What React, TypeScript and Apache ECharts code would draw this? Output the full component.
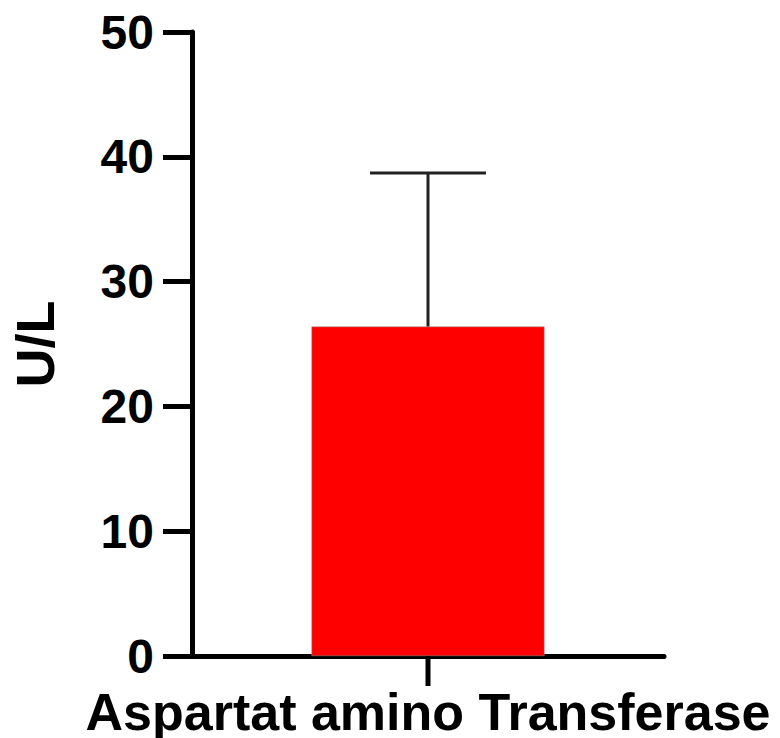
import React, { useEffect, useRef } from "react";
import * as echarts from "echarts";

const categories = ["Aspartat amino Transferase"];
const means = [26.4];
const errors = [12.3];
const yTicks = [0, 10, 20, 30, 40, 50];
const yAxisName = "U/L";

export default function App() {
  const ref = useRef<HTMLDivElement>(null);
  useEffect(() => {
    document.body.style.margin = "0";
    const chart = echarts.init(ref.current!, null, { renderer: "svg" });
    const font = "'Liberation Sans', Arial, sans-serif";
    chart.setOption({
      animation: false,
      backgroundColor: "#ffffff",
      grid: { left: 192, top: 32, width: 472, height: 624 },
      xAxis: {
        type: "category",
        data: categories,
        axisLine: { lineStyle: { color: "#000", width: 5 } },
        axisTick: { show: false },
        axisLabel: { color: "#000", fontSize: 52, fontWeight: "bold", fontFamily: font, margin: 30 },
      },
      yAxis: {
        type: "value",
        min: yTicks[0],
        max: yTicks[yTicks.length - 1],
        interval: 10,
        name: yAxisName,
        nameLocation: "middle",
        nameGap: 130,
        nameTextStyle: { color: "#000", fontSize: 54, fontWeight: "bold", fontFamily: font },
        splitLine: { show: false },
        axisLine: { show: true, lineStyle: { color: "#000", width: 5 } },
        axisTick: { show: true, length: 29, lineStyle: { color: "#000", width: 5 } },
        axisLabel: { color: "#000", fontSize: 48, fontWeight: "bold", fontFamily: font, margin: 38 },
      },
      series: [
        {
          type: "bar",
          data: means,
          barWidth: 233,
          itemStyle: { color: "#ff0000", borderColor: "#999", borderWidth: 0.5 },
          z: 2,
        },
        {
          type: "custom",
          data: means.map((m, i) => [i, m, m + errors[i]]),
          z: 3,
          renderItem: (params: any, api: any) => {
            const x = api.value(0);
            const lo = api.coord([x, api.value(1)]);
            const hi = api.coord([x, api.value(2)]);
            const base = api.coord([x, 0]);
            const half = 58;
            const style = { stroke: "#222", lineWidth: 3 };
            return {
              type: "group",
              children: [
                { type: "line", shape: { x1: lo[0], y1: lo[1], x2: hi[0], y2: hi[1] }, style },
                { type: "line", shape: { x1: hi[0] - half, y1: hi[1], x2: hi[0] + half, y2: hi[1] }, style },
                {
                  type: "line",
                  shape: { x1: base[0], y1: base[1], x2: base[0], y2: base[1] + 30 },
                  style: { stroke: "#000", lineWidth: 5 },
                },
              ],
            };
          },
        },
      ],
    });
    return () => chart.dispose();
  }, []);
  return <div ref={ref} style={{ width: 780, height: 738, position: "absolute", left: 0, top: 0 }} />;
}
